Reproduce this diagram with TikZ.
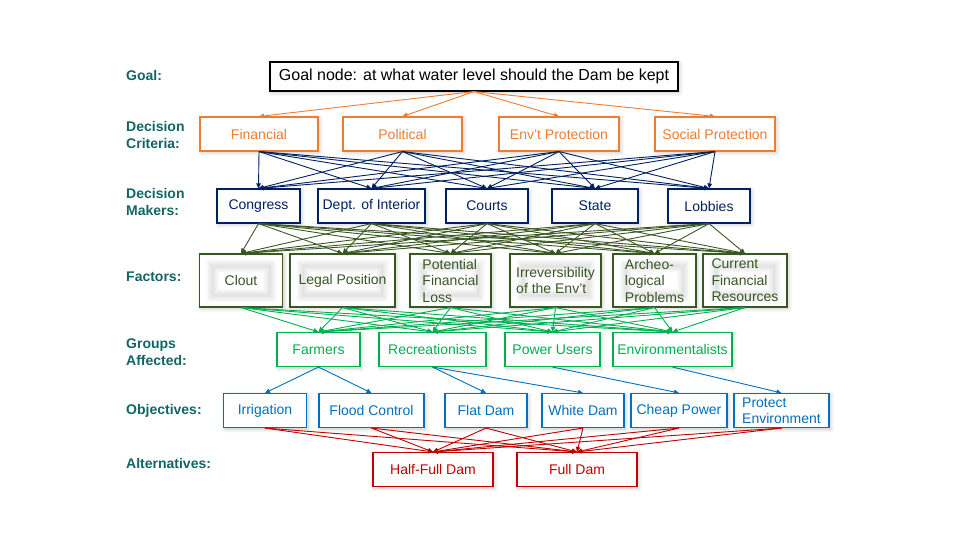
\documentclass[tikz,border=0pt]{standalone}
\usepackage{fontspec}
\setmainfont{Liberation Sans}
\usetikzlibrary{arrows.meta,shadows.blur}
\definecolor{cOrange}{RGB}{237,125,49}
\definecolor{cNavy}{RGB}{0,32,96}
\definecolor{cOlive}{RGB}{56,87,35}
\definecolor{cGreen}{RGB}{0,176,80}
\definecolor{cBlue}{RGB}{0,112,192}
\definecolor{cRed}{RGB}{192,0,0}
\definecolor{cTeal}{RGB}{18,101,101}
\begin{document}
\begin{tikzpicture}[x=1pt,y=-1pt,
  box/.style={draw, fill=white, line width=1.1pt, minimum height=34pt, inner sep=2pt,
    font=\fontsize{14}{16.5}\selectfont,
    blur shadow={shadow blur steps=6, shadow xshift=1.5pt, shadow yshift=-1.5pt, shadow opacity=22, shadow blur radius=4pt}},
  glow/.style={path picture={\foreach \w in {1,...,14}
      \draw[black, opacity=0.009, line width=\w pt]
        ([shift={(13pt,-12pt)}]path picture bounding box.north west) rectangle
        ([shift={(-13pt,12pt)}]path picture bounding box.south east);}},
  crit/.style={box, draw=cOrange, text=cOrange},
  mak/.style={box, draw=cNavy, text=cNavy},
  fac/.style={box, glow, draw=cOlive, text=cOlive, minimum height=53pt, align=left},
  grp/.style={box, draw=cGreen, text=cGreen},
  obj/.style={box, draw=cBlue, text=cBlue, align=left},
  alt/.style={box, draw=cRed, text=cRed},
  lab/.style={anchor=west, align=left, inner sep=0pt, text=cTeal, font=\bfseries\fontsize{14}{17}\selectfont},
  arr/.style={-{Triangle[length=5pt,width=4.5pt]}, line width=0.9pt}
]
\useasboundingbox (0,0) rectangle (960,540);

% row labels
\node[lab] (lgoal) at (126,75) {Goal:};
\node[lab] (lcrit) at (126,134.5) {Decision\\Criteria:};
\node[lab] (lmak) at (126,202) {Decision\\Makers:};
\node[lab] (lfac) at (126,277) {Factors:};
\node[lab] (lgrp) at (126,352.5) {Groups\\Affected:};
\node[lab] (lobj) at (126,411) {Objectives:};
\node[lab] (lalt) at (126,463) {Alternatives:};

% goal
\node[box, draw=black, text=black, minimum width=408pt, minimum height=29pt,
      font=\fontsize{16}{19}\selectfont] (goal) at (474,76.5) {Goal node: at what water level should the Dam be kept};

% decision criteria
\node[crit, minimum width=118pt] (fin) at (259,134) {Financial};
\node[crit, minimum width=119pt] (pol) at (402.5,134) {Political};
\node[crit, minimum width=120pt] (env) at (559,134) {Env’t Protection};
\node[crit, minimum width=120pt] (soc) at (715,134) {Social Protection};

% decision makers
\node[mak, minimum width=83pt] (con) at (258.5,206) {Congress};
\node[mak, minimum width=107pt] (doi) at (371.5,206) {Dept. of Interior};
\node[mak, minimum width=82pt] (cou) at (487,206) {Courts};
\node[mak, minimum width=86pt] (sta) at (595,206) {State};
\node[mak, minimum width=82pt] (lob) at (709,206) {Lobbies};

% factors
\node[fac, minimum width=83pt] (clo) at (241,280.5) {Clout};
\node[fac, minimum width=105pt] (leg) at (342.5,280.5) {Legal Position};
\node[fac, minimum width=81pt] (pot) at (450.5,280.5) {Potential\\Financial\\Loss};
\node[fac, minimum width=91pt] (irr) at (555.5,280.5) {Irreversibility\\of the Env’t};
\node[fac, minimum width=83pt] (arc) at (654.5,280.5) {Archeo-\\logical\\Problems};
\node[fac, minimum width=84pt] (cur) at (745,280.5) {Current\\Financial\\Resources};

% groups affected
\node[grp, minimum width=83pt] (far) at (318.5,349.5) {Farmers};
\node[grp, minimum width=107pt] (rec) at (432.5,349.5) {Recreationists};
\node[grp, minimum width=95pt] (pow) at (552.5,349.5) {Power Users};
\node[grp, minimum width=119pt] (evm) at (672.5,349.5) {Environmentalists};

% objectives
\node[obj, minimum width=83pt] (irg) at (265,410.5) {Irrigation};
\node[obj, minimum width=105pt] (flo) at (371.5,410.5) {Flood Control};
\node[obj, minimum width=82pt] (fla) at (486,410.5) {Flat Dam};
\node[obj, minimum width=82pt] (whi) at (583,410.5) {White Dam};
\node[obj, minimum width=96pt] (che) at (679,410.5) {Cheap Power};
\node[obj, minimum width=95pt, inner xsep=0pt] (pro) at (781.5,410.5) {Protect\\Environment};

% alternatives
\node[alt, minimum width=120pt] (half) at (433,469.5) {Half-Full Dam};
\node[alt, minimum width=120pt] (full) at (577,469.5) {Full Dam};

% connectors
\foreach \t in {fin,pol,env,soc}
  \draw[arr, cOrange] (goal.south) -- (\t.north);
\foreach \s in {fin,pol,env,soc}
  \foreach \t in {con,doi,cou,sta,lob}
    \draw[arr, cNavy] (\s.south) -- (\t.north);
\foreach \s in {con,doi,cou,sta,lob}
  \foreach \t in {clo,leg,pot,irr,arc,cur}
    \draw[arr, cOlive] (\s.south) -- (\t.north);
\foreach \s in {clo,leg,pot,irr,arc,cur}
  \foreach \t in {far,rec,pow,evm}
    \draw[arr, cGreen] (\s.south) -- (\t.north);
\draw[arr, cBlue] (far.south) -- (irg.north);
\draw[arr, cBlue] (far.south) -- (flo.north);
\draw[arr, cBlue] (rec.south) -- (fla.north);
\draw[arr, cBlue] (rec.south) -- (whi.north);
\draw[arr, cBlue] (pow.south) -- (che.north);
\draw[arr, cBlue] (evm.south) -- (pro.north);
\foreach \s in {irg,flo,fla,whi,che,pro}
  \foreach \t in {half,full}
    \draw[arr, cRed] (\s.south) -- (\t.north);
\end{tikzpicture}
\end{document}
